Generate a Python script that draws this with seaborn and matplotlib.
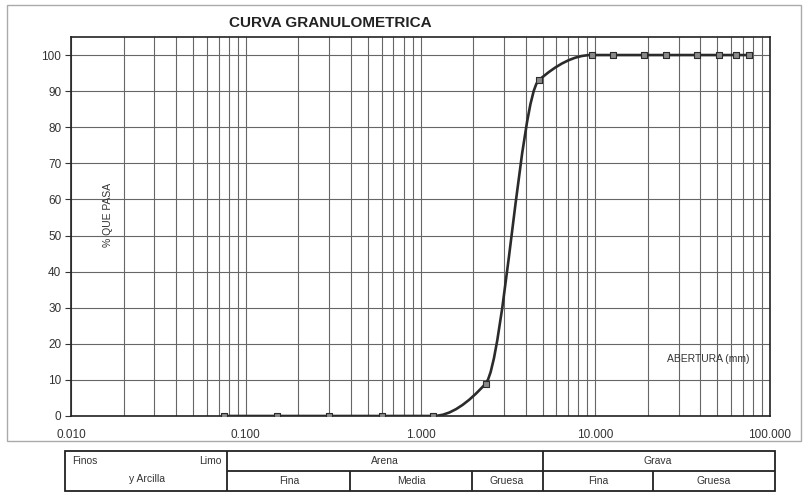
import numpy as np
import seaborn as sns
import matplotlib.pyplot as plt
from matplotlib.path import Path
from matplotlib.patches import PathPatch, Rectangle
from matplotlib.ticker import LogLocator, FixedLocator, NullFormatter

# abertura de tamices (mm) y % que pasa
sieve_mm = [0.075, 0.15, 0.30, 0.60, 1.18, 2.36, 4.75, 9.525, 12.7, 19.05, 25.4, 38.1, 50.8, 63.5, 76.2]
pct_pass = [0, 0, 0, 0, 0, 9, 93, 100, 100, 100, 100, 100, 100, 100, 100]

x_ticks = [0.01, 0.1, 1, 10, 100]
y_ticks = list(range(0, 101, 10))

# cuadro de clasificacion (texto, fila)
top_labels = ["Arena", "Grava"]
bottom_labels = ["Fina", "Media", "Gruesa", "Fina", "Gruesa"]


def set_config():
    sns.set_theme(style="white")
    plt.rcParams["font.family"] = ["Liberation Sans", "DejaVu Sans"]


def smooth_path(x, y):
    # curva suave monotona (tangentes tipo Fritsch-Carlson) en escala log
    u = np.log10(x)
    y = np.asarray(y, dtype=float)
    h = np.diff(u)
    d = np.diff(y) / h
    m = np.zeros_like(y)
    m[0], m[-1] = d[0], d[-1]
    for k in range(1, len(y) - 1):
        if d[k - 1] * d[k] > 0:
            w1 = 2 * h[k] + h[k - 1]
            w2 = h[k] + 2 * h[k - 1]
            m[k] = (w1 + w2) / (w1 / d[k - 1] + w2 / d[k])
    verts = [(x[0], y[0])]
    codes = [Path.MOVETO]
    for k in range(len(y) - 1):
        c1 = (10 ** (u[k] + h[k] / 3), y[k] + m[k] * h[k] / 3)
        c2 = (10 ** (u[k + 1] - h[k] / 3), y[k + 1] - m[k + 1] * h[k] / 3)
        verts += [c1, c2, (x[k + 1], y[k + 1])]
        codes += [Path.CURVE4] * 3
    return Path(verts, codes)


def draw_chart(fig):
    ax = fig.add_axes([71 / 808, 77 / 493, 699 / 808, 379 / 493])
    ax.set_xscale("log")
    ax.set_xlim(0.01, 100)
    ax.set_ylim(0, 105)

    ax.add_patch(PathPatch(smooth_path(sieve_mm, pct_pass), facecolor="none",
                           edgecolor="#2b2b2b", lw=1.9, zorder=3))
    sns.scatterplot(x=sieve_mm, y=pct_pass, ax=ax, marker="s", s=20,
                    color="#8a8a8a", edgecolor="#2b2b2b", linewidth=0.8, zorder=4)

    ax.xaxis.set_major_locator(FixedLocator(x_ticks))
    ax.set_xticklabels([f"{v:.3f}" for v in x_ticks])
    ax.xaxis.set_minor_locator(LogLocator(base=10, subs=np.arange(2, 10)))
    ax.xaxis.set_minor_formatter(NullFormatter())
    ax.set_yticks(y_ticks)

    ax.grid(which="both", axis="x", color="#666666", lw=0.8)
    ax.grid(which="major", axis="y", color="#666666", lw=0.8)
    ax.set_axisbelow(True)

    ax.tick_params(axis="x", which="both", length=0, pad=9, labelsize=8.5, labelcolor="#333333")
    ax.tick_params(axis="y", length=4, width=0.8, direction="out", color="#333333",
                   pad=3, labelsize=8.5, labelcolor="#333333", left=True)
    for sp in ax.spines.values():
        sp.set_color("#222222")
        sp.set_linewidth(1.2)

    ax.text(0.053, 0.53, "% QUE PASA", transform=ax.transAxes, rotation=90,
            ha="center", va="center", fontsize=7.5, color="#333333")
    ax.text(0.911, 0.15, "ABERTURA (mm)", transform=ax.transAxes,
            ha="center", va="center", fontsize=7.5, color="#333333")
    return ax


def draw_table(fig):
    tab = fig.add_axes([65 / 808, 2 / 493, 710 / 808, 40 / 493])
    tab.set_xlim(65, 775)
    tab.set_ylim(491, 451)
    tab.axis("off")
    kw = dict(color="#222222", lw=1.3, clip_on=False)
    tab.add_patch(Rectangle((65, 451), 710, 40, fill=False, ec="#222222", lw=1.3, clip_on=False))
    tab.hlines(471, 227, 775, **kw)
    tab.vlines([227, 543], 451, 491, **kw)
    tab.vlines([350, 472, 653], 471, 491, **kw)

    tk = dict(fontsize=7.5, color="#333333", va="center")
    tab.text(72, 461, "Finos", ha="left", **tk)
    tab.text(222, 461, "Limo", ha="right", **tk)
    tab.text(147, 479, "y Arcilla", ha="center", **tk)
    for label, xc in zip(top_labels, [385, 658]):
        tab.text(xc, 461, label, ha="center", **tk)
    for label, xc in zip(bottom_labels, [289, 411, 507, 598, 714]):
        tab.text(xc, 481, label, ha="center", **tk)


def main():
    set_config()
    fig = plt.figure(figsize=(8.08, 4.93), dpi=100)
    fig.add_artist(Rectangle((7 / 808, 1 - 441 / 493), 794 / 808, 436 / 493,
                             transform=fig.transFigure, fill=False, ec="#aaaaaa", lw=1))
    draw_chart(fig)
    fig.text(330 / 808, 1 - 23 / 493, "CURVA GRANULOMETRICA", ha="center", va="center",
             fontsize=11, fontweight="bold", color="#222222")
    draw_table(fig)
    fig.savefig("out.png", dpi=100)


if __name__ == "__main__":
    main()
